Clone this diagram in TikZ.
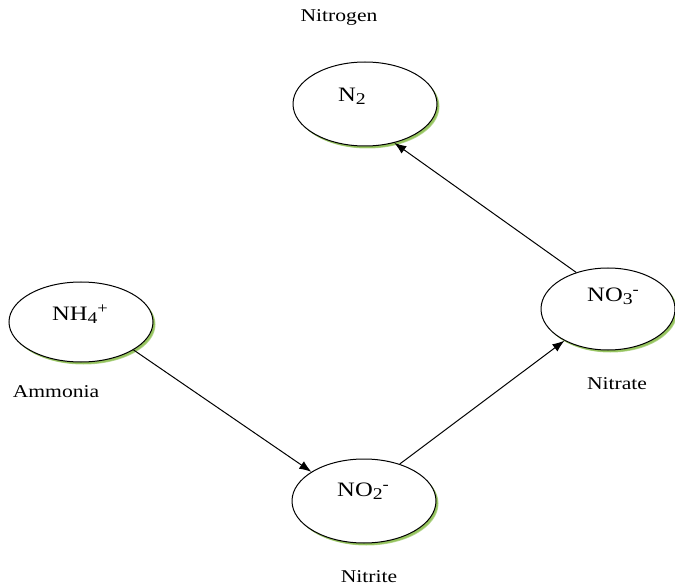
\documentclass[tikz,border=0pt]{standalone}
\usepackage{fontspec}
\setmainfont{Liberation Serif}
\usetikzlibrary{shapes.geometric,arrows.meta}

% chemical sub- and superscripts in text
\newcommand\chsub[1]{\raisebox{-0.3ex}{\scalebox{0.8}{#1}}}
\newcommand\chsup[1]{\raisebox{0.7ex}{\scalebox{0.75}{#1}}}
% wide serif lettering
\newcommand\wide[1]{\scalebox{1.2}[1]{#1}}

\definecolor{shadegreen}{RGB}{150,196,95}

\tikzset{
  species/.style={ellipse, draw=black, line width=1pt, fill=white,
    minimum width=144pt, minimum height=84pt, inner sep=0pt,
    preaction={fill=shadegreen!70, transform canvas={xshift=2.5pt, yshift=-2.5pt}},
    preaction={fill=shadegreen, transform canvas={xshift=1.8pt, yshift=-2pt}}},
  formula/.style={font=\fontsize{20.5}{23}\selectfont, inner sep=0pt},
  caption/.style={font=\fontsize{18}{21}\selectfont, inner sep=0pt},
  flow/.style={line width=1pt, -{Latex[length=12pt,width=9pt]}}
}

\begin{document}
\begin{tikzpicture}[x=1pt,y=-1pt]
  \useasboundingbox (0,0) rectangle (675,588);

  % the four nitrogen species
  \node[species] (n2)  at (365,104) {};
  \node[species, minimum height=80pt] (nh4) at (81,322) {};
  \node[species, minimum width=134pt, minimum height=82pt] (no3) at (608,309) {};
  \node[species] (no2) at (364,501) {};

  % formulas inside the ellipses
  \node[formula] (tn2)  at (352,96)  {\wide{N\chsub{2}}};
  \node[formula] (tnh4) at (80,314)  {\wide{NH\chsub{4}\chsup{+}}};
  \node[formula] (tno3) at (613,296) {\wide{NO\chsub{3}\chsup{-}}};
  \node[formula] (tno2) at (363,491) {\wide{NO\chsub{2}\chsup{-}}};

  % names beside the ellipses
  \node[caption] (ln2)  at (339,17)  {\wide{Nitrogen}};
  \node[caption] (lnh4) at (56,392)  {\wide{Ammonia}};
  \node[caption] (lno3) at (617,384) {\wide{Nitrate}};
  \node[caption] (lno2) at (369,577) {\wide{Nitrite}};

  % reaction pathway
  \draw[flow] (nh4.-28) -- (no2.151);
  \draw[flow] (no2.46)  -- (no3.216);
  \draw[flow] (no3.131) -- (n2.-53);
\end{tikzpicture}
\end{document}
